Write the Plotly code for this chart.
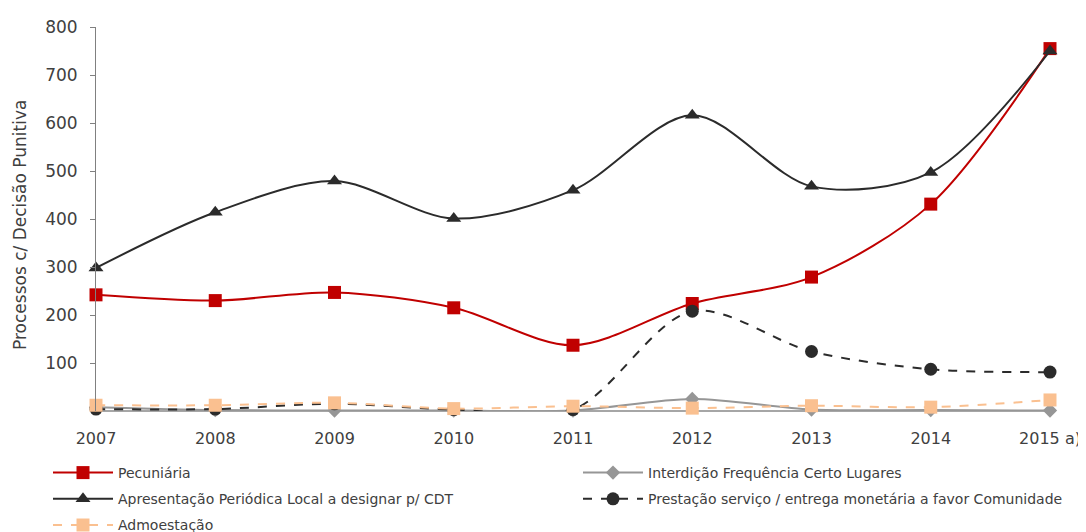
import plotly.graph_objects as go

years = ["2007", "2008", "2009", "2010", "2011", "2012", "2013", "2014", "2015 a)"]
pecuniaria = [242, 230, 247, 215, 137, 224, 279, 431, 755]
interdicao = [8, 2, 1, 1, 1, 25, 3, 2, 1]
apresentacao = [298, 414, 479, 401, 460, 616, 468, 497, 750]
prestacao = [4, 4, 15, 3, 3, 208, 124, 87, 81]
admoestacao = [12, 12, 17, 5, 10, 6, 11, 8, 23]
y_title = "Processos c/ Decisão Punitiva"

font_family = "'DejaVu Sans', sans-serif"
txt = "#404040"

fig = go.Figure()

def add(name, y, color, symbol, size, dash, legend, width=2):
    fig.add_trace(go.Scatter(
        x=years, y=y, name=name, mode="lines+markers",
        line=dict(color=color, width=width, shape="spline", smoothing=0.9, dash=dash),
        marker=dict(symbol=symbol, size=size, color=color),
        cliponaxis=False, legend=legend, legendgroup=name,
    ))

add("Pecuniária", pecuniaria, "#C00000", "square", 13, "solid", "legend")
add("Interdição Frequência Certo Lugares", interdicao, "#969696", "diamond", 11, "solid", "legend2")
add("Apresentação Periódica Local a designar p/ CDT", apresentacao, "#2B2B2B", "triangle-up", 13, "solid", "legend")
add("Prestação serviço / entrega monetária a favor Comunidade", prestacao, "#2B2B2B", "circle", 13, "dash", "legend2")
add("Admoestação", admoestacao, "#FAC090", "square", 13, "dash", "legend")

W, H = 1078, 524
leg_common = dict(
    orientation="v", xref="container", yref="container",
    yanchor="top", xanchor="left",
    font=dict(size=14, color=txt), tracegroupgap=5, itemwidth=60,
    bgcolor="rgba(0,0,0,0)",
)

fig.update_layout(
    width=W, height=H,
    margin=dict(l=88, r=36, t=19, b=121, autoexpand=False),
    paper_bgcolor="white", plot_bgcolor="white",
    font=dict(family=font_family, color=txt, size=16),
    showlegend=True,
    legend=dict(x=40 / W, y=1 - 449 / H, **leg_common),
    legend2=dict(x=570 / W, y=1 - 449 / H, **leg_common),
)
fig.add_annotation(
    text=y_title, xref="paper", yref="paper",
    x=(12 - 88) / 954, y=(403 - 217) / 384,
    textangle=-90, showarrow=False, xanchor="center", yanchor="middle",
    font=dict(size=17, color=txt),
)
fig.update_xaxes(
    type="category", range=[0, 8], showgrid=False, zeroline=False,
    showline=False, ticks="", tickfont=dict(size=16, color=txt),
    ticklabelstandoff=16, automargin=False,
)
fig.update_yaxes(
    range=[0, 800], tickvals=[100, 200, 300, 400, 500, 600, 700, 800],
    showgrid=False, zeroline=True, zerolinecolor="#A6A6A6", zerolinewidth=1.5,
    showline=True, linecolor="#808080", linewidth=1,
    ticks="outside", ticklen=5, tickcolor="#808080",
    tickfont=dict(size=17, color=txt), automargin=False, ticklabelstandoff=9,
)

fig.write_html("out.html")
